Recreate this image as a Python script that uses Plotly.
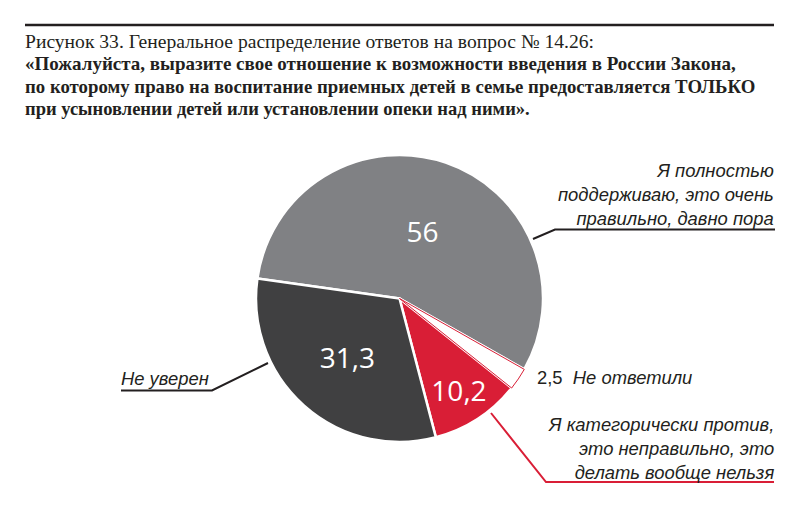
import plotly.graph_objects as go

# %% Data
answers = [
    'Я полностью поддерживаю, это очень правильно, давно пора',
    'Не ответили',
    'Я категорически против, это неправильно, это делать вообще нельзя',
    'Не уверен',
]
shares = [56, 2.5, 10.2, 31.3]
slice_colors = ['#808184', '#ffffff', '#d91e36', '#404041']

title_lines = [
    'Рисунок 33. Генеральное распределение ответов на вопрос № 14.26:',
    '<b>«Пожалуйста, выразите свое отношение к возможности введения в России Закона,</b>',
    '<b>по которому право на воспитание приемных детей в семье предоставляется ТОЛЬКО</b>',
    '<b>при усыновлении детей или установлении опеки над ними».</b>',
]
title_sizes = [19.6, 19, 18.8, 18.5]

W, H = 800, 510
INK = '#231f20'


def px(x):
    return x / W


def py(y):
    return 1 - y / H


def fmt(v):
    return str(v).replace('.', ',')


# numbers inside the big slices, the small one is labelled outside
slice_text = [fmt(v) if v > 5 else '' for v in shares]
pie_domain = dict(x=[px(256), px(543)], y=[py(442), py(155)])

fig = go.Figure()
fig.add_trace(go.Pie(
    labels=answers, values=shares, sort=False, direction='clockwise', rotation=278,
    marker=dict(colors=slice_colors, line=dict(color='white', width=2.5)),
    text=slice_text, textinfo='text', textposition='inside',
    insidetextorientation='horizontal',
    insidetextfont=dict(family='Open Sans', size=28, color='white'),
    domain=pie_domain, showlegend=False, hoverinfo='label+value',
))
# red outline of the "no answer" slice drawn on top
clear = 'rgba(0,0,0,0)'
fig.add_trace(go.Pie(
    labels=answers, values=shares, sort=False, direction='clockwise', rotation=278,
    marker=dict(colors=[clear] * 4,
                line=dict(color=[clear, slice_colors[2], clear, clear], width=[0, 1, 0, 0])),
    textinfo='none', domain=pie_domain, showlegend=False, hoverinfo='skip',
))

# %% Title
ann = []
for i, line in enumerate(title_lines):
    ann.append(dict(x=px(23), y=py(41 + i * 22.6), xref='paper', yref='paper',
                    text=line, showarrow=False, xanchor='left', yanchor='middle',
                    font=dict(family='Liberation Serif', size=title_sizes[i], color=INK)))

label_font = dict(family='Liberation Sans', size=18.4, color=INK)
ann += [
    dict(x=px(776), y=py(194.5), text='<i>' + 'Я полностью<br>поддерживаю, это очень<br>правильно, давно пора' + '</i>',
         xanchor='right', yanchor='middle', align='right'),
    dict(x=px(535), y=py(377), text=fmt(shares[1]) + '&nbsp;&nbsp;<i>' + answers[1] + '</i>',
         xanchor='left', yanchor='middle', align='left'),
    dict(x=px(776), y=py(448), text='<i>' + 'Я категорически против,<br>это неправильно, это<br>делать вообще нельзя' + '</i>',
         xanchor='right', yanchor='middle', align='right'),
    dict(x=px(119), y=py(378), text='<i>' + answers[3] + '</i>',
         xanchor='left', yanchor='middle', align='left'),
]
for a in ann[len(title_lines):]:
    a.update(xref='paper', yref='paper', showarrow=False, font=label_font)

# %% Rules and leader lines
def seg(pts, color=INK, width=2):
    path = 'M ' + ' L '.join(f'{px(x)},{py(y)}' for x, y in pts)
    return dict(type='path', path=path, xref='paper', yref='paper',
                line=dict(color=color, width=width))


shapes = [
    dict(type='line', x0=px(25), x1=px(774), y0=py(25), y1=py(25), xref='paper', yref='paper',
         line=dict(color=INK, width=2.5)),
    seg([(533, 239), (555, 229.5), (775, 229.5)]),
    seg([(491, 413), (546, 482), (774, 482)], color=slice_colors[2]),
    seg([(268, 363), (212, 390.5), (121, 390.5)]),
]

fig.update_layout(
    width=W, height=H,
    margin=dict(l=0, r=0, t=0, b=0),
    paper_bgcolor='white', plot_bgcolor='white',
    annotations=ann, shapes=shapes,
)

# page body margin would shift the figure by 8px
fig.write_html('out.html', config={'displayModeBar': False},
               post_script="document.body.style.margin='0';")
